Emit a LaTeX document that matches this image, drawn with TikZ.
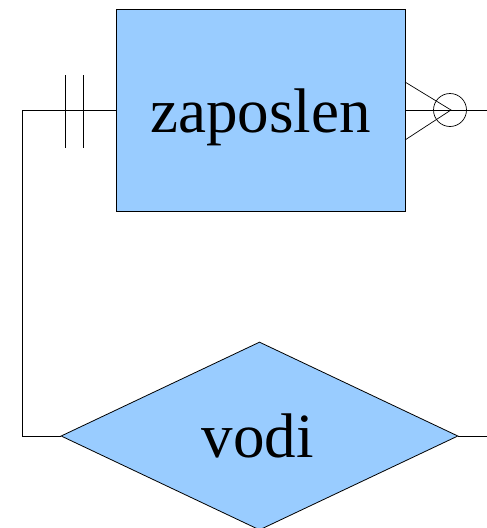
\documentclass[tikz,border=0pt]{standalone}
\usepackage{fontspec}
\setmainfont{Liberation Serif}
\usetikzlibrary{shapes.geometric}
\definecolor{entblue}{HTML}{99CCFF}
\begin{document}
\begin{tikzpicture}[x=1pt, y=-1pt, line width=0.8pt, font=\fontsize{63}{63}\selectfont,
    ent/.style ={draw, fill=entblue, minimum width=289pt, minimum height=202pt, inner sep=0pt},
    rel/.style ={draw, fill=entblue, diamond, minimum width=397pt, minimum height=188pt, inner sep=0pt},
    lnk/.style ={line width=0.7pt},
  ]
  \useasboundingbox (0,0) rectangle (487,528);
  \node[ent] (zap) at (260.5,110) {};
  \node[anchor=base] (zaptxt) at (260.5,132) {zaposlen};
  \node[rel] (vodi) at (259.5,436) {};
  \node[anchor=base] (voditxt) at (258,457) {vodi};
  % mandatory one side
  \coordinate (corner) at (22,110);
  \draw[lnk] (zap.west) -- (corner) |- (vodi.west);
  \draw[lnk] (65,75) -- (65,148);
  \draw[lnk] (83,75) -- (83,148);
  % optional many side
  \coordinate (tip) at (451,110);
  \coordinate (rend) at (487,110);
  \draw[lnk] (zap.east) -- (rend);
  \draw[lnk] (405,82) -- (tip) -- (405,140);
  \draw[lnk] (450,110) circle[radius=16.5];
  % relationship out
  \coordinate (vend) at (487,436);
  \draw[lnk] (vodi.east) -- (vend);
\end{tikzpicture}
\end{document}
